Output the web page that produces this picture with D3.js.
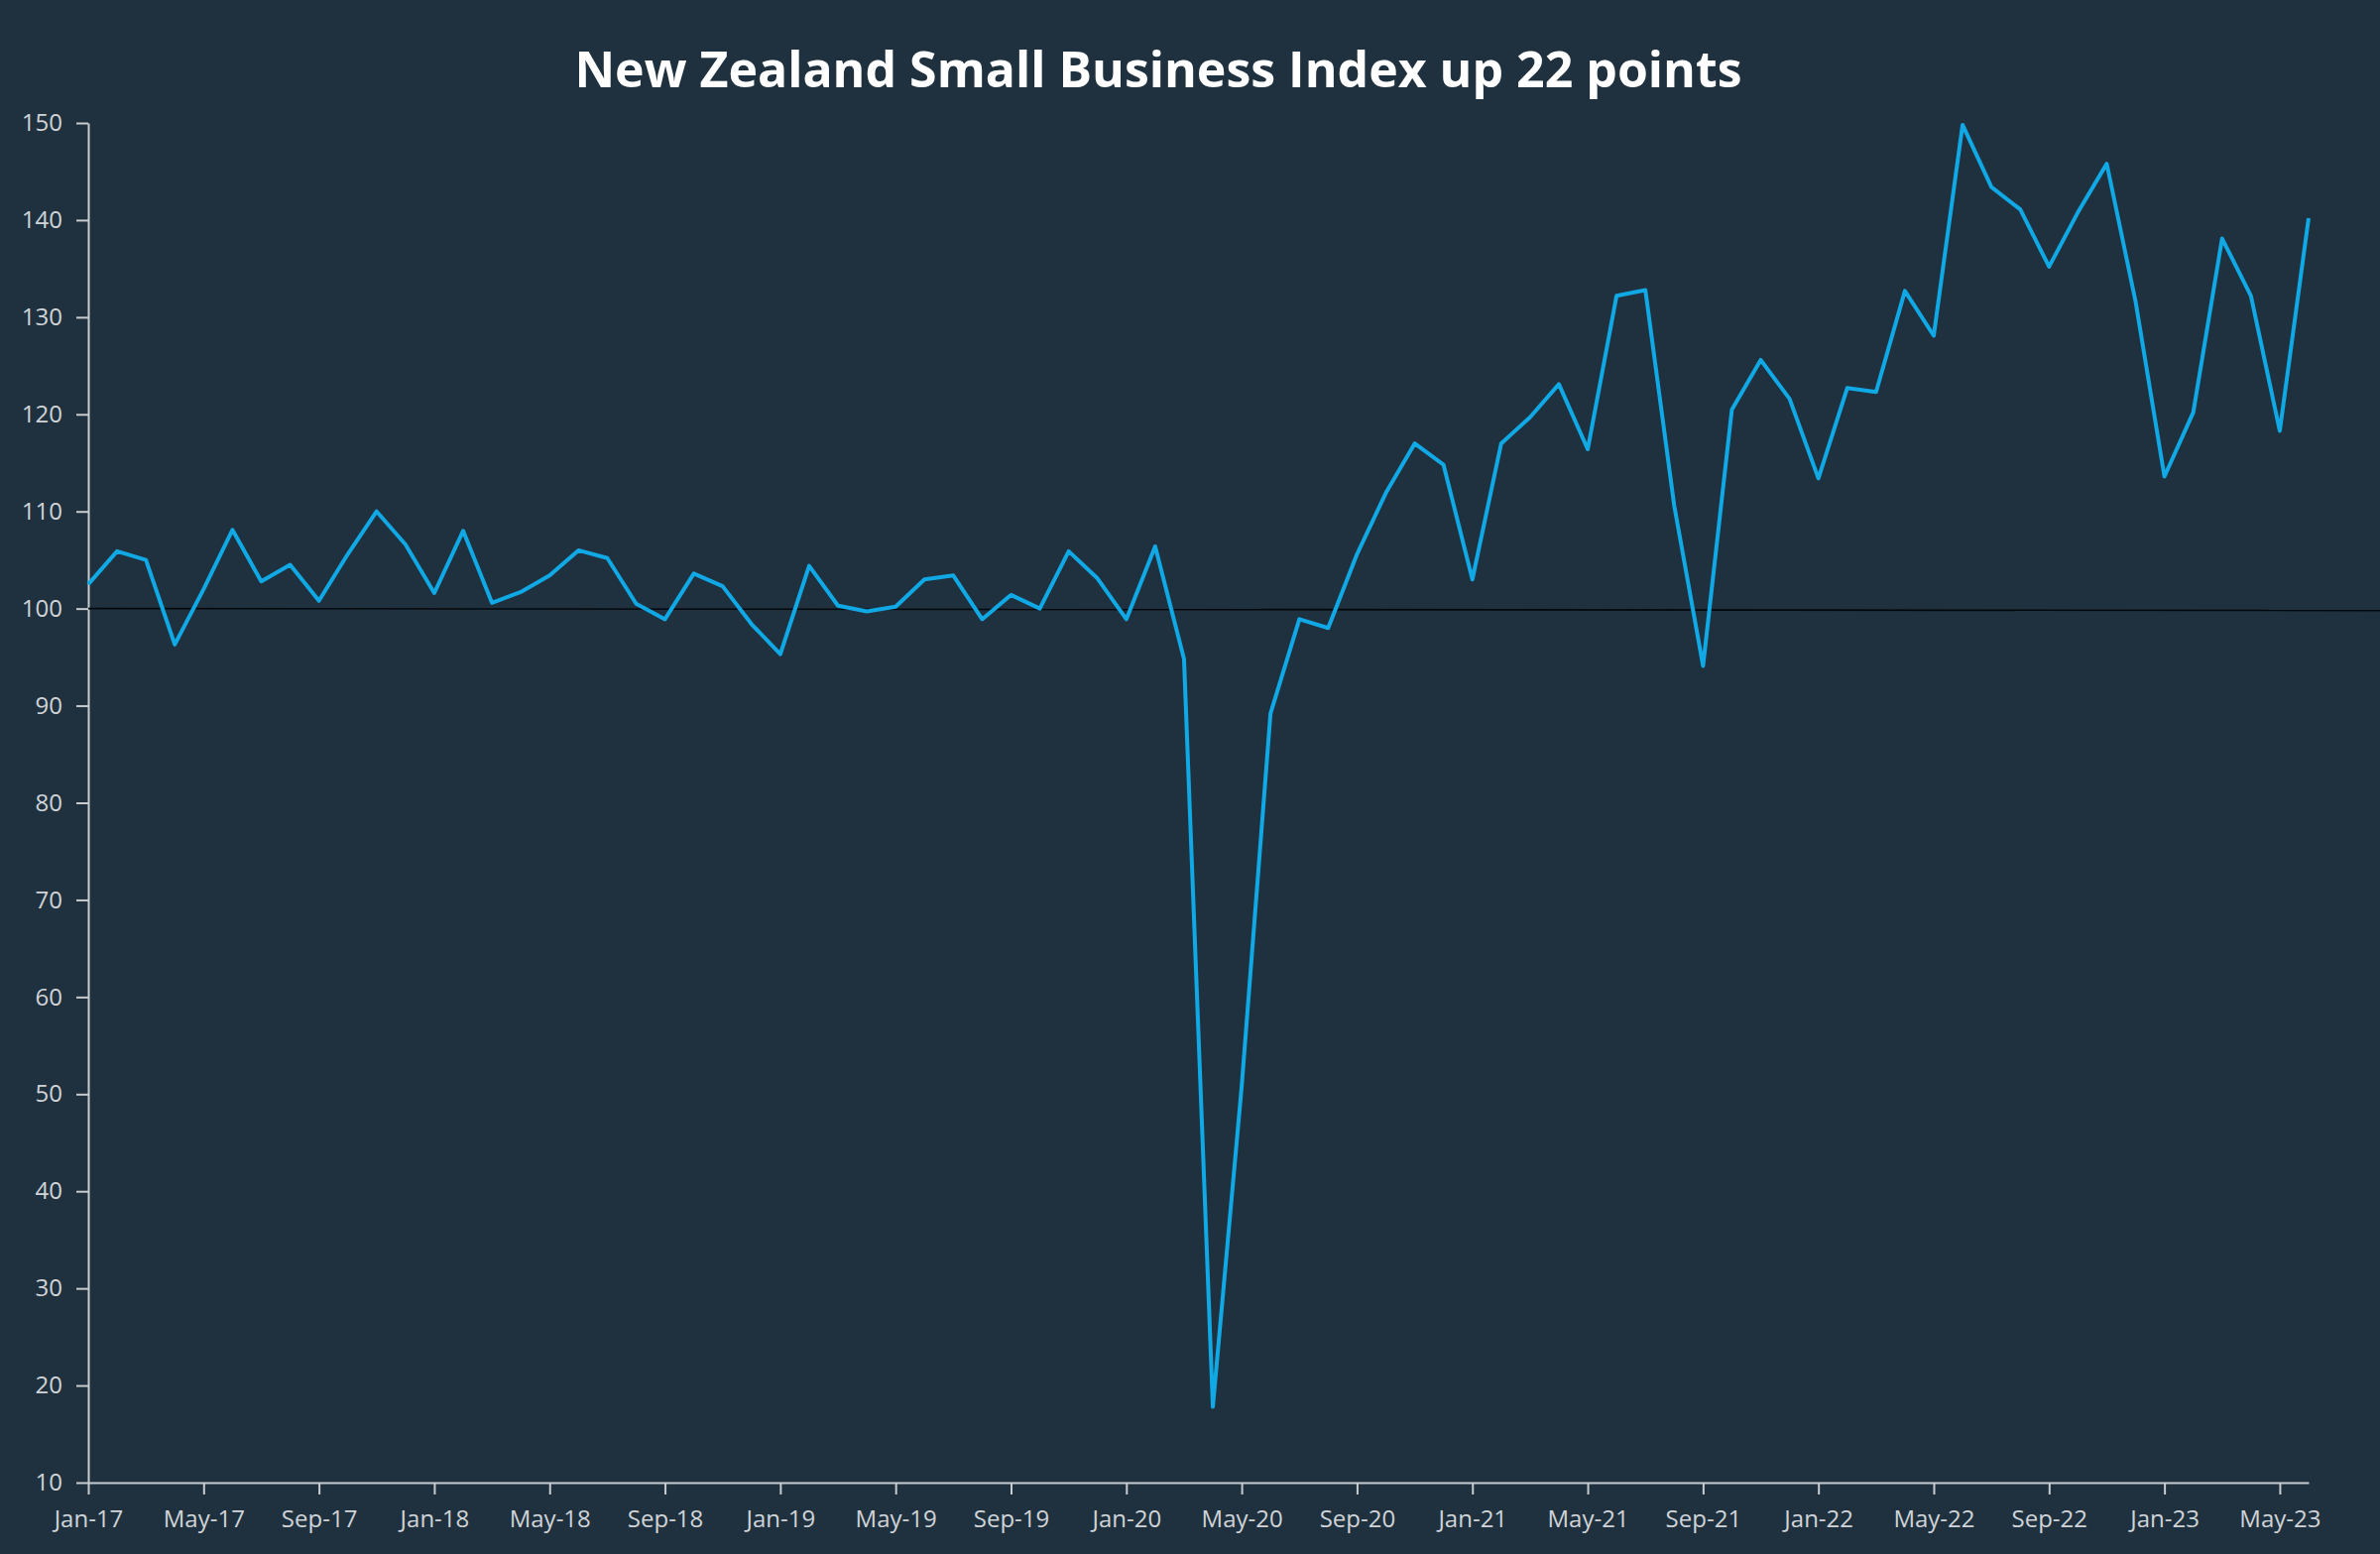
<!DOCTYPE html>
<html>
<head>
<meta charset="utf-8" />
<title>NZ Small Business Index</title>
<script src="https://cdn.jsdelivr.net/npm/d3@7"></script>
<style>
  body { margin: 0; background: #1f313e; }
  svg { display: block; font-family: "Open Sans", "Liberation Sans", sans-serif; }
</style>
</head>
<body>
<svg id="chart" width="2400" height="1567"></svg>
<script>
// months Jan-17 .. Jun-23
var startYear = 2017;
var monthNames = ["Jan","Feb","Mar","Apr","May","Jun","Jul","Aug","Sep","Oct","Nov","Dec"];
var indexValues = [
  102.5, 105.9, 105.0, 96.3, 102.0, 108.1, 102.8, 104.5, 100.8, 105.6, 110.0, 106.6,
  101.6, 108.0, 100.6, 101.7, 103.4, 106.0, 105.2, 100.5, 98.9, 103.6, 102.3, 98.4,
  95.3, 104.4, 100.3, 99.7, 100.2, 103.0, 103.4, 98.9, 101.4, 100.0, 105.9, 103.1,
  98.9, 106.4, 94.8, 17.8, 50.8, 89.2, 98.9, 98.0, 105.6, 111.9, 117.0, 114.8,
  103.0, 117.0, 119.7, 123.1, 116.4, 132.2, 132.8, 110.6, 94.1, 120.5, 125.6, 121.6,
  113.4, 122.7, 122.3, 132.7, 128.1, 149.8, 143.4, 141.1, 135.2, 140.8, 145.8, 131.6,
  113.6, 120.2, 138.1, 132.2, 118.3, 140.2
];
var yTicks = [10, 20, 30, 40, 50, 60, 70, 80, 90, 100, 110, 120, 130, 140, 150];
var title = "New Zealand Small Business Index up 22 points";

function monthLabel(i) {
  var yr = startYear + Math.floor(i / 12);
  return monthNames[i % 12] + "-" + String(yr).slice(2);
}

var svg = d3.select("#chart");
var mLeft = 89, mRight = 2328, mTop = 124, mBottom = 1495;

var x = d3.scaleLinear().domain([0, indexValues.length - 1]).range([mLeft, mRight]);
var y = d3.scaleLinear().domain([10, 150]).range([mBottom, mTop]);

svg.append("rect").attr("width", 2400).attr("height", 1567).attr("fill", "#1f313e");

svg.append("text")
  .attr("x", 1168).attr("y", 88)
  .attr("text-anchor", "middle")
  .attr("fill", "#ffffff")
  .attr("font-size", 50).attr("font-weight", "bold")
  .text(title);

// y axis
var yAxis = svg.append("g").attr("transform", "translate(" + mLeft + ",0)")
  .call(d3.axisLeft(y).tickValues(yTicks).tickSize(12).tickSizeOuter(0).tickPadding(14));
// x axis
var xTickIdx = d3.range(0, indexValues.length, 4);
var xAxis = svg.append("g").attr("transform", "translate(0," + mBottom + ")")
  .call(d3.axisBottom(x).tickValues(xTickIdx).tickFormat(monthLabel).tickSize(12).tickSizeOuter(0).tickPadding(16));

[yAxis, xAxis].forEach(function (g) {
  g.selectAll("path, line").attr("stroke", "#c8ccd0").attr("stroke-width", 2);
  g.selectAll("text").attr("fill", "#d0d4d8").attr("font-size", 24)
    .attr("font-family", "\"Open Sans\", \"Liberation Sans\", sans-serif");
});

// reference line at 100
svg.append("line")
  .attr("x1", mLeft).attr("x2", 2400)
  .attr("y1", y(100)).attr("y2", y(100) + 2)
  .attr("stroke", "#05080b").attr("stroke-width", 1.6);

var line = d3.line().x(function (d, i) { return x(i); }).y(function (d) { return y(d); });
svg.append("path")
  .datum(indexValues)
  .attr("d", line)
  .attr("fill", "none")
  .attr("stroke", "#10a9e6")
  .attr("stroke-width", 4)
  .attr("stroke-linejoin", "round");
</script>
</body>
</html>
